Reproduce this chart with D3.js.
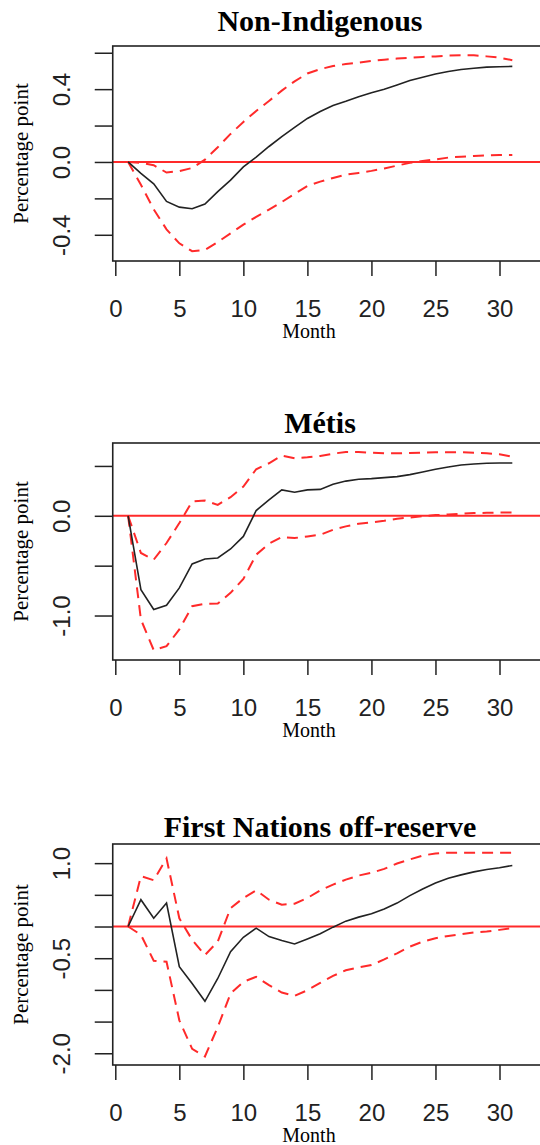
<!DOCTYPE html>
<html>
<head>
<meta charset="utf-8">
<script src="https://cdn.jsdelivr.net/npm/d3@7"></script>
<style>
  body { margin: 0; background: #fff; }
  svg { display: block; }
  .title { font-family: 'Liberation Serif', 'Times New Roman', serif; font-weight: bold; font-size: 30px; fill: #000; }
  .lab { font-family: 'Liberation Serif', 'Times New Roman', serif; font-size: 20px; fill: #000; }
  .ylab { font-size: 21px; }
  .axis text { font-family: 'Liberation Sans', Arial, sans-serif; font-size: 24px; fill: #222; }
  .axis line { stroke: #222; stroke-width: 1.5; }
  .axis path { display: none; }
</style>
</head>
<body>
<div class="chart"></div>
<script>
// months after shock
const months = [1,2,3,4,5,6,7,8,9,10,11,12,13,14,15,16,17,18,19,20,21,22,23,24,25,26,27,28,29,30,31];
const xTicks = [0, 5, 10, 15, 20, 25, 30];

const panelTitles = ['Non-Indigenous', 'Métis', 'First Nations off-reserve'];

// Non-Indigenous
const nonIndIrf = [0, -0.063, -0.12, -0.217, -0.248, -0.257, -0.231, -0.163, -0.10, -0.027, 0.027, 0.085, 0.139, 0.19, 0.239, 0.277, 0.31, 0.333, 0.358, 0.38, 0.40, 0.423, 0.447, 0.465, 0.483, 0.497, 0.508, 0.515, 0.521, 0.523, 0.525];
const nonIndUpper = [0, -0.005, -0.018, -0.058, -0.05, -0.033, 0.013, 0.081, 0.154, 0.22, 0.28, 0.335, 0.392, 0.443, 0.486, 0.51, 0.527, 0.538, 0.546, 0.555, 0.562, 0.568, 0.573, 0.577, 0.58, 0.584, 0.586, 0.586, 0.58, 0.573, 0.559];
const nonIndLower = [0, -0.125, -0.26, -0.37, -0.447, -0.49, -0.483, -0.44, -0.392, -0.344, -0.302, -0.262, -0.22, -0.175, -0.132, -0.108, -0.088, -0.07, -0.06, -0.049, -0.036, -0.02, -0.005, 0.005, 0.014, 0.024, 0.029, 0.033, 0.036, 0.038, 0.038];
const nonIndTicks = [-0.4, -0.2, 0, 0.2, 0.4, 0.6];
const nonIndLabeled = [-0.4, 0, 0.4];

// Métis
const metisIrf = [0, -0.74, -0.94, -0.897, -0.723, -0.483, -0.433, -0.423, -0.333, -0.207, 0.053, 0.16, 0.26, 0.237, 0.26, 0.265, 0.317, 0.348, 0.367, 0.373, 0.383, 0.393, 0.413, 0.44, 0.467, 0.49, 0.51, 0.52, 0.527, 0.53, 0.53];
const metisUpper = [0, -0.373, -0.44, -0.273, -0.073, 0.143, 0.153, 0.11, 0.187, 0.293, 0.467, 0.527, 0.603, 0.577, 0.587, 0.6, 0.623, 0.64, 0.64, 0.633, 0.627, 0.627, 0.63, 0.633, 0.637, 0.637, 0.637, 0.633, 0.627, 0.617, 0.593];
const metisLower = [0, -1.04, -1.347, -1.307, -1.14, -0.907, -0.883, -0.88, -0.773, -0.633, -0.39, -0.28, -0.213, -0.223, -0.207, -0.19, -0.14, -0.106, -0.08, -0.067, -0.05, -0.03, -0.017, -0.003, 0.007, 0.013, 0.02, 0.027, 0.03, 0.033, 0.033];
const metisTicks = [-1, -0.5, 0, 0.5];
const metisLabeled = [-1, 0];

// First Nations off-reserve
const fnIrf = [0, 0.423, 0.132, 0.37, -0.635, -0.9, -1.18, -0.82, -0.397, -0.17, -0.026, -0.159, -0.222, -0.275, -0.196, -0.113, -0.01, 0.085, 0.148, 0.2, 0.275, 0.37, 0.487, 0.593, 0.688, 0.762, 0.815, 0.862, 0.9, 0.926, 0.963];
const fnUpper = [0, 0.794, 0.73, 1.075, 0.13, -0.21, -0.45, -0.238, 0.29, 0.45, 0.571, 0.423, 0.344, 0.36, 0.45, 0.57, 0.661, 0.74, 0.804, 0.847, 0.91, 0.995, 1.058, 1.12, 1.153, 1.164, 1.164, 1.164, 1.164, 1.164, 1.164];
const fnLower = [0, -0.13, -0.54, -0.556, -1.48, -1.93, -2.05, -1.587, -1.058, -0.873, -0.794, -0.926, -1.042, -1.095, -1.005, -0.89, -0.78, -0.69, -0.646, -0.608, -0.519, -0.423, -0.317, -0.238, -0.185, -0.148, -0.122, -0.095, -0.079, -0.053, -0.026];
const fnTicks = [-2, -1.5, -1, -0.5, 0, 0.5, 1];
const fnLabeled = [-2, -0.5, 1];

const width = 540;
const height = 1145;

const svg = d3.select('.chart')
  .append('svg')
  .attr('width', width)
  .attr('height', height);

// x scale is shared by the three panels
const xScale = d3.scaleLinear().domain([0, 30]).range([115.3, 499.5]);
const boxLeft = xScale(-0.2);
const boxRight = width + 5;

const panels = [
  { title: panelTitles[0], irf: nonIndIrf, upper: nonIndUpper, lower: nonIndLower, ticks: nonIndTicks, labeled: nonIndLabeled,
    top: 46, bottom: 261, yDomain: [-0.544, 0.637], titleY: 31 },
  { title: panelTitles[1], irf: metisIrf, upper: metisUpper, lower: metisLower, ticks: metisTicks, labeled: metisLabeled,
    top: 443, bottom: 660, yDomain: [-1.446, 0.73], titleY: 433 },
  { title: panelTitles[2], irf: fnIrf, upper: fnUpper, lower: fnLower, ticks: fnTicks, labeled: fnLabeled,
    top: 844, bottom: 1065, yDomain: [-2.185, 1.302], titleY: 837 }
];

panels.forEach(p => {
  const yScale = d3.scaleLinear().domain(p.yDomain).range([p.bottom, p.top]);
  const g = svg.append('g');

  // title
  g.append('text')
    .attr('class', 'title')
    .attr('x', 320)
    .attr('y', p.titleY)
    .attr('text-anchor', 'middle')
    .text(p.title);

  // zero line
  g.append('line')
    .attr('x1', boxLeft)
    .attr('x2', boxRight)
    .attr('y1', yScale(0))
    .attr('y2', yScale(0))
    .attr('stroke', '#ff2a2a')
    .attr('stroke-width', 2);

  const line = d3.line()
    .x((d, i) => xScale(months[i]))
    .y(d => yScale(d));

  [p.upper, p.lower].forEach(band => {
    g.append('path')
      .datum(band)
      .attr('fill', 'none')
      .attr('stroke', '#ff2a2a')
      .attr('stroke-width', 2)
      .attr('stroke-dasharray', '11,7')
      .attr('d', line);
  });

  g.append('path')
    .datum(p.irf)
    .attr('fill', 'none')
    .attr('stroke', '#222')
    .attr('stroke-width', 1.6)
    .attr('d', line);

  // box
  g.append('rect')
    .attr('x', boxLeft)
    .attr('y', p.top)
    .attr('width', boxRight - boxLeft)
    .attr('height', p.bottom - p.top)
    .attr('fill', 'none')
    .attr('stroke', '#222')
    .attr('stroke-width', 1.6);

  // x axis
  const xAxis = d3.axisBottom(xScale)
    .tickValues(xTicks)
    .tickSize(15)
    .tickFormat(d3.format('d'));
  const xg = g.append('g')
    .attr('class', 'x axis')
    .attr('transform', `translate(0,${p.bottom})`)
    .call(xAxis);
  xg.selectAll('text')
    .attr('y', 56)
    .attr('dy', null);

  // y axis
  const yAxis = d3.axisLeft(yScale)
    .tickValues(p.ticks)
    .tickSize(18)
    .tickFormat(d => p.labeled.includes(d) ? d.toFixed(1) : '');
  const yg = g.append('g')
    .attr('class', 'y axis')
    .attr('transform', `translate(${boxLeft},0)`)
    .call(yAxis);
  yg.selectAll('text')
    .attr('x', null)
    .attr('dy', null)
    .attr('text-anchor', 'middle')
    .attr('transform', `translate(${70 - boxLeft},0) rotate(-90)`);

  // axis titles
  g.append('text')
    .attr('class', 'lab')
    .attr('x', 309)
    .attr('y', p.bottom + 77)
    .attr('text-anchor', 'middle')
    .text('Month');

  g.append('text')
    .attr('class', 'lab ylab')
    .attr('text-anchor', 'middle')
    .attr('transform', `translate(28,${(p.top + p.bottom) / 2}) rotate(-90)`)
    .text('Percentage point');
});
</script>
</body>
</html>
